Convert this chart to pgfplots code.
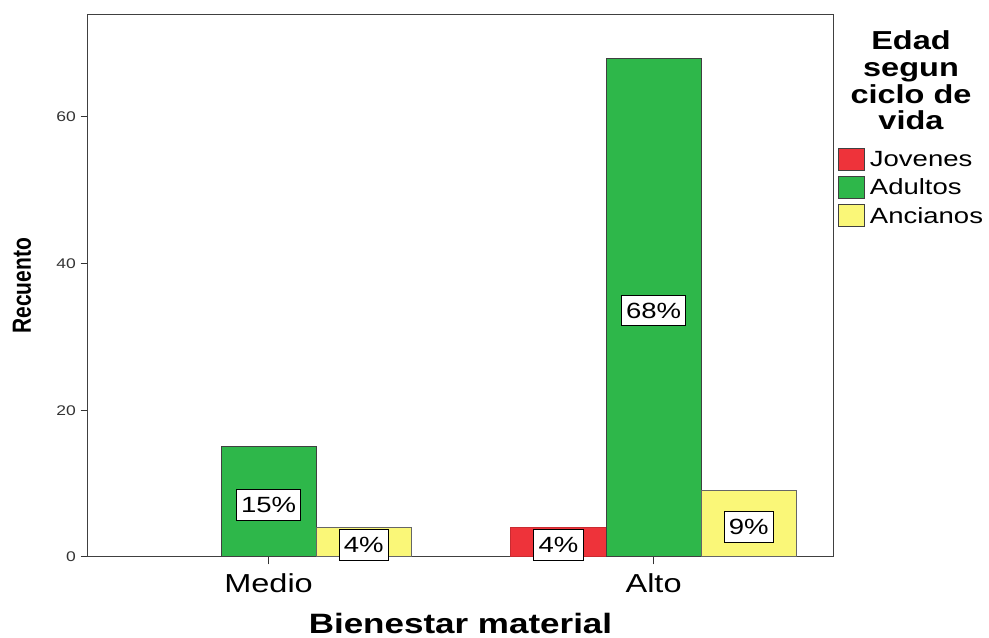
\documentclass[border=0pt]{standalone}
\usepackage{pgfplots}
\pgfplotsset{compat=1.18}
\usepackage{fontspec}
\setmainfont{Liberation Sans}[FakeStretch=1.25]
\newfontfamily\plainfont{Liberation Sans}
\definecolor{jred}{RGB}{238,51,58}
\definecolor{jgreen}{RGB}{46,183,74}
\definecolor{jyel}{RGB}{250,247,120}
\begin{document}
\begin{tikzpicture}
\useasboundingbox (-66pt,-60.75pt) rectangle (675.75pt,417.75pt);
\begin{axis}[
  at={(0pt,0pt)}, anchor=south west,
  scale only axis, width=558.75pt, height=406.5pt,
  clip=false,
  xmin=-0.469, xmax=1.466, ymin=0, ymax=73.9,
  xtick={0,1}, xticklabels={Medio,Alto},
  ytick={0,20,40,60},
  tick align=outside, xtick pos=bottom, ytick pos=left,
  major tick length=5.5pt,
  tick style={black!80, line width=0.75pt},
  axis line style={black!75, line width=0.75pt},
  /pgf/number format/assume math mode=true,
  yticklabel style={font=\fontsize{10.5}{12}\selectfont, text=black!80},
  xticklabel style={font=\fontsize{19.5}{22}\selectfont, anchor=base, yshift=-21pt},
  xlabel={Bienestar material},
  xlabel style={font=\fontsize{21}{24}\selectfont\bfseries, at={(axis description cs:0.5,0)}, anchor=base, yshift=-57.5pt},
  ylabel={\scalebox{1}[1.25]{\plainfont\bfseries\fontsize{15.75}{18}\selectfont Recuento}},
  ylabel style={at={(axis description cs:-0.0886,0.5)}, anchor=center},
  legend image code/.code={\draw[#1, draw=black!75, line width=0.75pt] (0pt,-7.5pt) rectangle (19.5pt,9pt);},
  legend style={at={(axis description cs:1.0067,0.756)}, anchor=north west, draw=none, fill=none,
    font=\fontsize{16.5}{19}\selectfont, row sep=3.2pt, inner sep=0pt,
    /tikz/every even column/.append style={column sep=0pt},
    /tikz/every odd column/.append style={column sep=1.5pt}},
  legend cell align=left,
]
\addplot[ybar, bar width=0.247, bar shift=0pt, fill=jred, draw=jred!85!black, line width=0.75pt]
  coordinates {(0.753,4)};
\addplot[ybar, bar width=0.247, bar shift=0pt, fill=jgreen, draw=black!75, line width=0.75pt]
  coordinates {(0,15) (1,68)};
\addplot[ybar, bar width=0.247, bar shift=0pt, fill=jyel, draw=black!60, line width=0.75pt]
  coordinates {(0.247,4) (1.247,9)};
\addplot[forget plot, draw=none, nodes near coords, point meta=explicit symbolic,
  nodes near coords style={anchor=center, draw=black, fill=white, line width=0.75pt,
    font=\fontsize{16.5}{19}\selectfont, inner xsep=3.5pt, minimum height=23pt}]
  table[meta=lab] {
x y lab
0 7.1 15\%
0.247 1.6 4\%
0.753 1.6 4\%
1 33.6 68\%
1.247 4.1 9\%
};
\legend{Jovenes, Adultos, Ancianos}
\node[align=center, inner sep=0pt, anchor=north, font=\fontsize{19.5}{20}\selectfont\bfseries]
  at (axis description cs:1.1047,0.971) {Edad\\segun\\ciclo de\\vida};
\end{axis}
\end{tikzpicture}
\end{document}
